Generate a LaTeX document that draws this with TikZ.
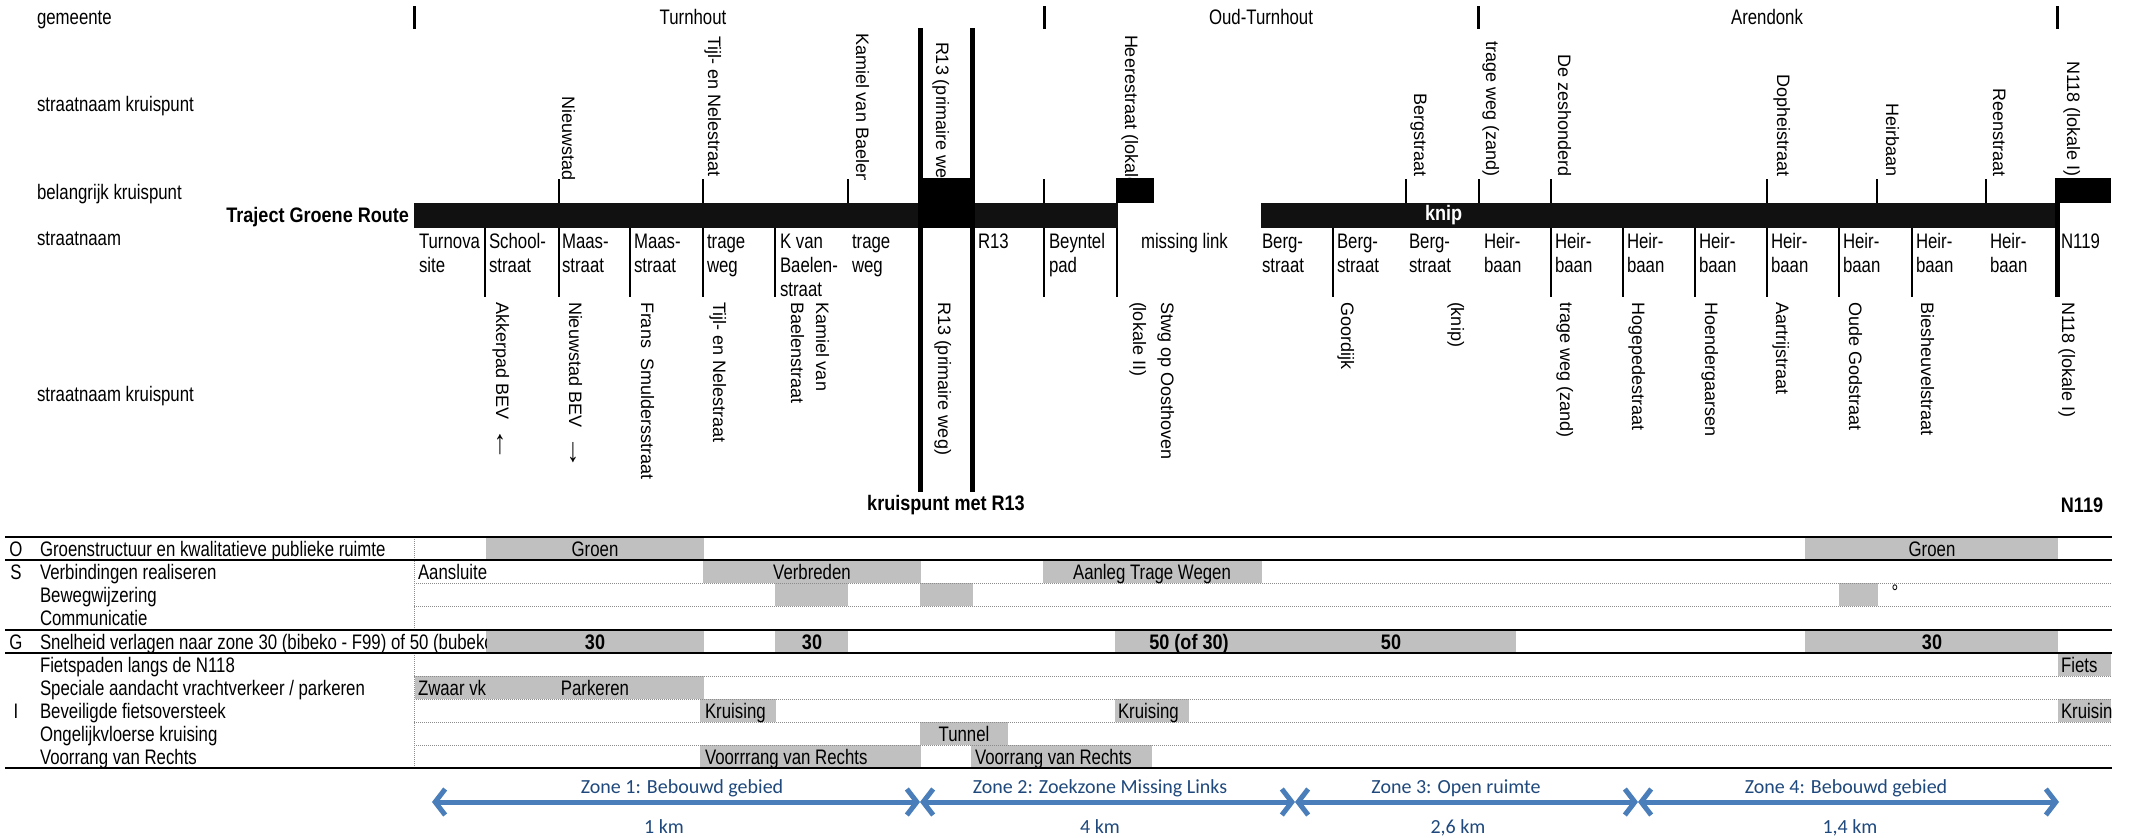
\documentclass[tikz,border=0pt]{standalone}
\usepackage{fontspec}
\usepackage{graphicx}
\setmainfont{Liberation Sans}
\newfontfamily\narrowfont{Liberation Sans}[FakeStretch=0.80]
\newfontfamily\narrowbold{Liberation Sans}[FakeStretch=0.86]
\newfontfamily\zonefont{Carlito}
\usetikzlibrary{arrows.meta}
\definecolor{cellgray}{HTML}{C0C0C0}
\definecolor{barblack}{HTML}{111111}
\definecolor{zonetext}{RGB}{31,73,125}
\definecolor{zonearrow}{RGB}{74,126,187}
\definecolor{gridgray}{HTML}{8C8C8C}
\newcommand{\twoline}[4]{\node[sttxt] (#1a) at (#2,248) {#3}; \node[sttxt] (#1b) at (#2,272) {#4};}
\newcommand{\bigarrow}[1]{\scalebox{1.9}[1.3]{#1}}
\begin{document}
\begin{tikzpicture}[x=1pt,y=-1pt,
  every node/.style={inner sep=0pt,outer sep=0pt},
  txt/.style={font=\narrowfont\fontsize{21}{25}\selectfont,anchor=mid west,yshift=-5pt},
  txtc/.style={font=\narrowfont\fontsize{21}{25}\selectfont,anchor=mid,yshift=-5pt},
  btxt/.style={font=\narrowbold\bfseries\fontsize{21}{25}\selectfont,anchor=mid,yshift=-5pt},
  sttxt/.style={font=\narrowfont\fontsize{21}{25}\selectfont,anchor=base west},
  vup/.style={font=\fontsize{18}{21}\selectfont,rotate=-90,anchor=base east},
  vdown/.style={font=\fontsize{18}{21}\selectfont,rotate=-90,anchor=base west},
  gembar/.style={line width=3pt},
  tickline/.style={line width=2pt},
  thickline/.style={line width=5pt},
  thickrule/.style={line width=2.5pt},
  dotrule/.style={line width=1pt,draw=gridgray,densely dotted},
  zonearr/.style={draw=zonearrow,line width=5pt,{Straight Barb[length=10pt,width=26pt]}-{Straight Barb[length=10pt,width=26pt]}},
  zonelbl/.style={font=\zonefont\fontsize{20}{24}\selectfont,text=zonetext,anchor=mid,yshift=-3pt},
]
\useasboundingbox (0,0) rectangle (2129,838);
\fill[white] (0,0) rectangle (2129,838);

% ---------- left row labels ----------
\node[txt] (lgem) at (37,17) {gemeente};
\node[txt] (lskt) at (37,104) {straatnaam kruispunt};
\node[txt] (lbk) at (37,192) {belangrijk kruispunt};
\node[txt] (lsn) at (37,238) {straatnaam};
\node[txt] (lskb) at (37,394) {straatnaam kruispunt};
\node[btxt,anchor=mid east] (ltraject) at (409,215) {Traject Groene Route};

% ---------- gemeente ----------
\foreach \x in {414,1044,1478,2057} \draw[gembar] (\x,6) -- (\x,29);
\node[txtc] (gturn) at (693,17) {Turnhout};
\node[txtc] (goud) at (1261,17) {Oud-Turnhout};
\node[txtc] (garen) at (1767,17) {Arendonk};

% ---------- upper street names (rotated) ----------
\node[vup] (ua) at (562,181) {Nieuwstad};
\node[vup] (ub) at (708,177) {Tijl- en Nelestraat};
\begin{scope}
\clip (840,0) rectangle (1160,179);
\node[vdown] (uc) at (856,33) {Kamiel van Baelenstraat};
\node[vdown] (ur) at (936,42) {R13 (primaire weg)};
\node[vdown] (uh) at (1125,35) {Heerestraat (lokale II)};
\end{scope}
\node[vup] (ud) at (1414,177) {Bergstraat};
\node[vup] (ue) at (1486,177) {trage weg (zand)};
\node[vup] (uf) at (1558,177) {De zeshonderd};
\node[vup] (ug) at (1777,177) {Dopheistraat};
\node[vup] (ui) at (1886,177) {Heirbaan};
\node[vup] (uj) at (1993,177) {Reenstraat};
\node[vup] (uk) at (2067,177) {N118 (lokale I)};

% ---------- route bar ----------
\fill[barblack] (414,203) rectangle (1118,228);
\fill[barblack] (1261,203) rectangle (2060,228);
\fill[black] (918,178) rectangle (975,228);
\fill[black] (1116,178) rectangle (1154,203);
\fill[black] (2056,178) rectangle (2111,203);
\node[btxt,text=white,anchor=mid west] (knip) at (1425,213) {knip};

\foreach \x in {559,703,848,1044,1406,1479,1551,1767,1877,1986} \draw[tickline] (\x,179) -- (\x,203);
\foreach \x in {485,559,630,703,775,1044,1117,1333,1551,1623,1695,1767,1839,1912} \draw[tickline] (\x,228) -- (\x,297);
\draw[thickline] (920.5,28) -- (920.5,492);
\draw[thickline] (972.5,28) -- (972.5,492);
\draw[thickline] (2057.5,178) -- (2057.5,297);

% ---------- street names row ----------
\twoline{sa}{419}{Turnova}{site}
\twoline{sb}{489}{School-}{straat}
\twoline{sc}{562}{Maas-}{straat}
\twoline{sd}{634}{Maas-}{straat}
\twoline{se}{707}{trage}{weg}
\twoline{sf}{780}{K van}{Baelen-}
\node[sttxt] (sfc) at (780,296) {straat};
\twoline{sg}{852}{trage}{weg}
\node[sttxt] (sh) at (978,248) {R13};
\twoline{si}{1049}{Beyntel}{pad}
\node[sttxt] (sj) at (1141,248) {missing link};
\twoline{sk}{1262}{Berg-}{straat}
\twoline{sl}{1337}{Berg-}{straat}
\twoline{sm}{1409}{Berg-}{straat}
\twoline{sn}{1484}{Heir-}{baan}
\twoline{so}{1555}{Heir-}{baan}
\twoline{sp}{1627}{Heir-}{baan}
\twoline{sq}{1699}{Heir-}{baan}
\twoline{sr}{1771}{Heir-}{baan}
\twoline{ss}{1843}{Heir-}{baan}
\twoline{st}{1916}{Heir-}{baan}
\twoline{su}{1990}{Heir-}{baan}
\node[sttxt] (sv) at (2061,248) {N119};

% ---------- lower street names (rotated) ----------
\node[vdown] (la) at (496,302) {Akkerpad BEV\hspace{8pt}\bigarrow{←}};
\node[vdown] (lb) at (569,302) {Nieuwstad BEV\hspace{8pt}\bigarrow{→}};
\node[vdown] (lc) at (641,302) {Frans\ \ Smuldersstraat};
\node[vdown] (ld) at (713,302) {Tijl- en Nelestraat};
\node[vdown] (le1) at (816,302) {Kamiel van};
\node[vdown] (le2) at (791,302) {Baelenstraat};
\node[vdown] (lf) at (938,302) {R13 (primaire weg)};
\node[vdown] (lg1) at (1161,302) {Stwg op Oosthoven};
\node[vdown] (lg2) at (1133,302) {(lokale II)};
\node[vdown] (lh) at (1341,302) {Goordijk};
\node[vdown] (li) at (1451,302) {(knip)};
\node[vdown] (lj) at (1560,302) {trage weg (zand)};
\node[vdown] (lk) at (1632,302) {Hogepedestraat};
\node[vdown] (ll) at (1705,302) {Hoendergaarsen};
\node[vdown] (lm) at (1776,302) {Aartrijstraat};
\node[vdown] (ln) at (1849,302) {Oude Godstraat};
\node[vdown] (lo) at (1921,302) {Biesheuvelstraat};
\node[vdown] (lp) at (2062,302) {N118 (lokale I)};

\node[btxt] (bkr) at (946,503) {kruispunt met R13};
\node[btxt] (bn) at (2082,505) {N119};

% ---------- table: gray cells ----------
\fill[cellgray] (486,537) rectangle (704,560);
\fill[cellgray] (1805,537) rectangle (2058,560);
\fill[cellgray] (703,560) rectangle (921,583);
\fill[cellgray] (1043,560) rectangle (1262,583);
\fill[cellgray] (775,583) rectangle (848,606);
\fill[cellgray] (920,583) rectangle (973,606);
\fill[cellgray] (1839,583) rectangle (1878,606);
\fill[cellgray] (486,630) rectangle (704,653);
\fill[cellgray] (775,630) rectangle (848,653);
\fill[cellgray] (1115,630) rectangle (1516,653);
\fill[cellgray] (1805,630) rectangle (2058,653);
\fill[cellgray] (2058,653) rectangle (2111,676);
\fill[cellgray] (415,676) rectangle (704,699);
\fill[cellgray] (700,699) rectangle (776,722);
\fill[cellgray] (1115,699) rectangle (1189,722);
\fill[cellgray] (2058,699) rectangle (2111,722);
\fill[cellgray] (920,722) rectangle (1008,745);
\fill[cellgray] (700,745) rectangle (921,768);
\fill[cellgray] (971,745) rectangle (1152,768);

% ---------- table: lines ----------
\foreach \y in {583,606,676,699,722,745} \draw[dotrule] (414,\y) -- (2112,\y);
\draw[dotrule] (414,537) -- (414,630);
\draw[dotrule] (414,653) -- (414,768);
\foreach \y in {537,560,630,653,768} \draw[thickrule] (5,\y) -- (2112,\y);

% ---------- table: left texts ----------
\node[txtc] (tO) at (16,548.5) {O};
\node[txtc] (tS) at (16,571.5) {S};
\node[txtc] (tG) at (16,641.5) {G};
\node[txtc] (tI) at (16,710.5) {I};
\node[txt] (d1) at (40,548.5) {Groenstructuur en kwalitatieve publieke ruimte};
\node[txt] (d2) at (40,571.5) {Verbindingen realiseren};
\node[txt] (d3) at (40,594.5) {Bewegwijzering};
\node[txt] (d4) at (40,618) {Communicatie};
\begin{scope}
\clip (30,631) rectangle (486,652);
\node[txt] (d5) at (40,641.5) {Snelheid verlagen naar zone 30 (bibeko - F99) of 50 (bubeko)};
\end{scope}
\node[txt] (d6) at (40,664.5) {Fietspaden langs de N118};
\node[txt] (d7) at (40,687.5) {Speciale aandacht vrachtverkeer / parkeren};
\node[txt] (d8) at (40,710.5) {Beveiligde fietsoversteek};
\node[txt] (d9) at (40,733.5) {Ongelijkvloerse kruising};
\node[txt] (d10) at (40,756.5) {Voorrang van Rechts};

% ---------- table: cell texts ----------
\node[txtc] (c1) at (595,548.5) {Groen};
\node[txtc] (c2) at (1932,548.5) {Groen};
\begin{scope}
\clip (415,561) rectangle (486,582);
\node[txt] (c3) at (418,571.5) {Aansluiten};
\end{scope}
\node[txtc] (c4) at (812,571.5) {Verbreden};
\node[txtc] (c5) at (1152,571.5) {Aanleg Trage Wegen};
\node[txtc] (c6) at (1895,592) {°};
\node[btxt] (c7) at (595,641.5) {30};
\node[btxt] (c8) at (812,641.5) {30};
\node[btxt] (c9) at (1189,641.5) {50 (of 30)};
\node[btxt] (c10) at (1391,641.5) {50};
\node[btxt] (c11) at (1932,641.5) {30};
\node[txt] (c12) at (2061,664.5) {Fiets};
\begin{scope}
\clip (2058,700) rectangle (2111,721);
\node[txt] (c13) at (2061,710.5) {Kruising};
\end{scope}
\node[txt] (c14) at (418,687.5) {Zwaar vk};
\node[txtc] (c15) at (595,687.5) {Parkeren};
\node[txt] (c16) at (705,710.5) {Kruising};
\node[txt] (c17) at (1118,710.5) {Kruising};
\node[txtc] (c18) at (964,733.5) {Tunnel};
\node[txt] (c19) at (705,756.5) {Voorrrang van Rechts};
\node[txt] (c20) at (975,756.5) {Voorrang van Rechts};

% ---------- zones ----------
\coordinate (z0) at (432,802);
\coordinate (z1) at (920,802);
\coordinate (z2) at (1295,802);
\coordinate (z3) at (1638,802);
\coordinate (z4) at (2059,802);
\draw[zonearr] (z0) -- (z1);
\draw[zonearr] (z1) -- (z2);
\draw[zonearr] (z2) -- (z3);
\draw[zonearr] (z3) -- (z4);
\node[zonelbl] (zl1) at (682,788) {Zone 1: Bebouwd gebied};
\node[zonelbl] (zk1) at (664,828) {1 km};
\node[zonelbl] (zl2) at (1100,788) {Zone 2: Zoekzone Missing Links};
\node[zonelbl] (zk2) at (1100,828) {4 km};
\node[zonelbl] (zl3) at (1456,788) {Zone 3: Open ruimte};
\node[zonelbl] (zk3) at (1458,828) {2,6 km};
\node[zonelbl] (zl4) at (1846,788) {Zone 4: Bebouwd gebied};
\node[zonelbl] (zk4) at (1850,828) {1,4 km};
\end{tikzpicture}
\end{document}
